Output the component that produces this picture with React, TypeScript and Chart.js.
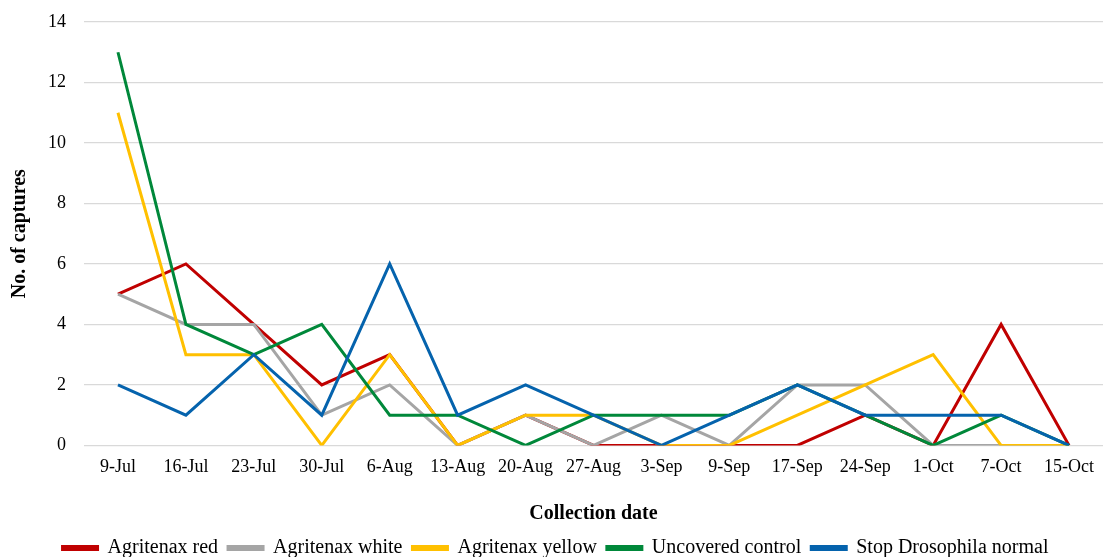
import React, { useEffect, useRef } from "react";
import { Chart, registerables } from "chart.js";

Chart.register(...registerables);

const categories = ["9-Jul", "16-Jul", "23-Jul", "30-Jul", "6-Aug", "13-Aug", "20-Aug", "27-Aug", "3-Sep", "9-Sep", "17-Sep", "24-Sep", "1-Oct", "7-Oct", "15-Oct"];
const agritenaxRed = [5, 6, 4, 2, 3, 0, 1, 0, 0, 0, 0, 1, 0, 4, 0];
const agritenaxWhite = [5, 4, 4, 1, 2, 0, 1, 0, 1, 0, 2, 2, 0, 0, 0];
const agritenaxYellow = [11, 3, 3, 0, 3, 0, 1, 1, 0, 0, 1, 2, 3, 0, 0];
const uncoveredControl = [13, 4, 3, 4, 1, 1, 0, 1, 1, 1, 2, 1, 0, 1, 0];
const stopDrosophila = [2, 1, 3, 1, 6, 1, 2, 1, 0, 1, 2, 1, 1, 1, 0];

const FONT = "'Liberation Serif', 'Times New Roman', serif";

export default function App() {
  const ref = useRef<HTMLCanvasElement>(null);
  useEffect(() => {
    if (!ref.current) return;
    const mk = (label: string, data: number[], color: string, order: number) => ({
      label,
      data,
      order,
      borderColor: color,
      backgroundColor: color,
      borderWidth: 3,
      pointRadius: 0,
      tension: 0,
      fill: false,
    });
    const chart = new Chart(ref.current, {
      type: "line",
      data: {
        labels: categories,
        datasets: [
          mk("Agritenax red", agritenaxRed, "#c00000", 5),
          mk("Agritenax white", agritenaxWhite, "#a5a5a5", 4),
          mk("Agritenax yellow", agritenaxYellow, "#ffc000", 3),
          mk("Uncovered control", uncoveredControl, "#00883a", 2),
          mk("Stop Drosophila normal", stopDrosophila, "#0563ad", 1),
        ],
      },
      options: {
        animation: false,
        responsive: true,
        maintainAspectRatio: false,
        layout: { padding: { top: 0, right: 2, left: 8, bottom: -11 } },
        plugins: {
          tooltip: { enabled: false },
          legend: {
            position: "bottom",
            labels: {
              font: { family: FONT, size: 20 },
              color: "#000",
              boxWidth: 35,
              boxHeight: 3,
              padding: 10,
              sort: (a: any, b: any) => a.datasetIndex - b.datasetIndex,
            },
          },
        },
        scales: {
          x: {
            offset: true,
            grid: { display: false },
            border: { display: false },
            ticks: { font: { family: FONT, size: 18 }, color: "#000", maxRotation: 0, autoSkip: false, padding: 3 },
            title: { display: true, text: "Collection date", font: { family: FONT, size: 20, weight: "bold" }, color: "#000", padding: { top: 21, bottom: 2 } },
          },
          y: {
            min: 0,
            max: 14,
            ticks: { stepSize: 2, font: { family: FONT, size: 18 }, color: "#000", padding: 18 },
            grid: { color: "#d9d9d9", lineWidth: 1.3, drawTicks: false },
            border: { display: false },
            title: { display: true, text: "No. of captures", font: { family: FONT, size: 20, weight: "bold" }, color: "#000", padding: { top: 0, bottom: 6 } },
            afterFit: (s: any) => { s.width = 76; s.paddingTop = 22; },
          },
        },
      },
    });
    return () => chart.destroy();
  }, []);
  return (
    <div style={{ position: "fixed", left: 0, top: 0, width: 1105, height: 557, background: "#fff" }}>
      <canvas ref={ref} />
    </div>
  );
}
